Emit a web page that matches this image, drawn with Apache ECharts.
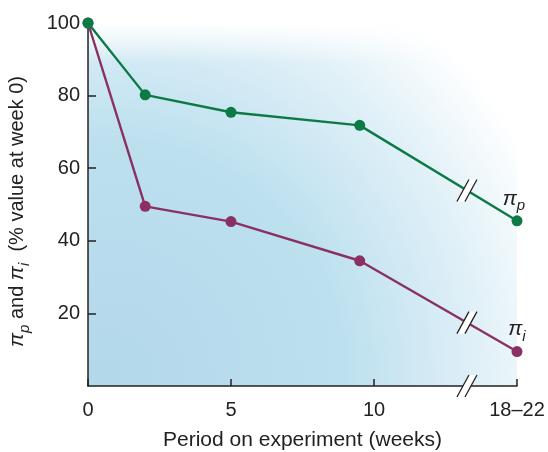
<!DOCTYPE html>
<html>
<head>
<meta charset="utf-8">
<script src="https://cdn.jsdelivr.net/npm/echarts@6/dist/echarts.min.js"></script>
<style>html,body{margin:0;padding:0;background:#fff;}#c{width:548px;height:452px;}</style>
</head>
<body>
<div id="c"></div>
<script>
// Data (x = position on axis in weeks; last point plotted at 15, labelled "18–22")
const weeks = [0, 2, 5, 9.5, 15];
const piP = [100, 80.2, 75.4, 71.8, 45.5];
const piI = [100, 49.5, 45.3, 34.5, 9.5];
const xTicks = {0: '0', 5: '5', 10: '10', 15: '18–22'};
const yTicks = [20, 40, 60, 80, 100];
const breakX = 13.25;

const green = '#0b7a44';
const purple = '#8a3164';
const font = 'Liberation Sans, Arial, Helvetica, sans-serif';

const chart = echarts.init(document.getElementById('c'), null, {renderer: 'canvas'});

function pairs(ys) { return weeks.map((w, i) => [w, ys[i]]); }
const piRich = {
  pi: {fontFamily: font, fontSize: 21, fontStyle: 'italic', color: '#222'},
  sub: {fontFamily: font, fontSize: 15, fontStyle: 'italic', color: '#222', padding: [14, 0, 0, 0]}
};

const option = {
  animation: false,
  grid: {
    left: 88, right: 31, top: 23, bottom: 66,
    containLabel: false, outerBoundsMode: 'none',
    show: true, borderWidth: 0,
    backgroundColor: new echarts.graphic.RadialGradient(0.05, 0.97, 1.3, [
      {offset: 0, color: '#b3d8ea'},
      {offset: 0.5, color: '#bde0ef'},
      {offset: 0.8, color: '#e2f1f8'},
      {offset: 1, color: '#ffffff'}
    ])
  },
  xAxis: {
    type: 'value', min: 0, max: 15, interval: 5,
    name: 'Period on experiment (weeks)',
    nameLocation: 'middle', nameGap: 44,
    nameTextStyle: {fontFamily: font, fontSize: 21, color: '#222'},
    axisLine: {lineStyle: {color: '#222', width: 1.5}},
    axisTick: {inside: true, length: 7, lineStyle: {color: '#222', width: 1.5}},
    axisLabel: {fontFamily: font, fontSize: 20, color: '#222', margin: 14,
      formatter: v => xTicks[v] !== undefined ? xTicks[v] : ''},
    splitLine: {show: false}
  },
  yAxis: {
    type: 'value', min: 0, max: 100, interval: 20,
    name: '{pi|π}{sub|p} and {pi|π}{sub|i}  (% value at week 0)',
    nameLocation: 'middle', nameGap: 56, nameRotate: 90,
    nameTextStyle: {fontFamily: font, fontSize: 20, color: '#222', rich: piRich, padding: [0, 14, 0, 0]},
    axisLine: {lineStyle: {color: '#222', width: 1.5}},
    axisTick: {inside: true, length: 8, lineStyle: {color: '#222', width: 1.5},
      customValues: [20, 40, 60, 80]},
    axisLabel: {fontFamily: font, fontSize: 20, color: '#222', margin: 8,
      formatter: v => yTicks.indexOf(v) >= 0 ? String(v) : ''},
    splitLine: {show: false}
  },
  series: [
    {
      type: 'line', data: pairs(piI), z: 3,
      lineStyle: {color: purple, width: 2.4},
      itemStyle: {color: purple},
      symbol: 'circle', symbolSize: 11, showAllSymbol: true
    },
    {
      type: 'line', data: pairs(piP), z: 4,
      lineStyle: {color: green, width: 2.4},
      itemStyle: {color: green},
      symbol: 'circle', symbolSize: 11, showAllSymbol: true
    }
  ]
};
const last = weeks.length - 1;
option.series[0].data = option.series[0].data.map((d, i) => i === last ?
  {value: d, label: {show: true, position: 'top', distance: 2, formatter: '{pi|π}{sub|i}', rich: piRich}} : d);
option.series[1].data = option.series[1].data.map((d, i) => i === last ?
  {value: d, label: {show: true, position: 'top', distance: 2, offset: [-3, 0], formatter: '{pi|π}{sub|p}', rich: piRich}} : d);

chart.setOption(option);

// break marks (decorations) positioned from the axes' own scales
function breakMark(cx, cy) {
  const dx = 6, dy = 11, off = 4;
  const a1 = [cx - off - dx, cy + dy], a2 = [cx - off + dx, cy - dy];
  const b1 = [cx + off - dx, cy + dy], b2 = [cx + off + dx, cy - dy];
  return [
    {type: 'polygon', shape: {points: [a1, a2, b2, b1]}, style: {fill: '#ffffff'}, z: 10},
    {type: 'line', shape: {x1: a1[0], y1: a1[1], x2: a2[0], y2: a2[1]}, style: {stroke: '#222', lineWidth: 1.3}, z: 11},
    {type: 'line', shape: {x1: b1[0], y1: b1[1], x2: b2[0], y2: b2[1]}, style: {stroke: '#222', lineWidth: 1.3}, z: 11}
  ];
}
function onSegment(ys) {
  const n = weeks.length;
  const p1 = chart.convertToPixel({gridIndex: 0}, [weeks[n - 2], ys[n - 2]]);
  const p2 = chart.convertToPixel({gridIndex: 0}, [weeks[n - 1], ys[n - 1]]);
  const bx = chart.convertToPixel({gridIndex: 0}, [breakX, 0])[0];
  const t = (bx - p1[0]) / (p2[0] - p1[0]);
  return [bx, p1[1] + t * (p2[1] - p1[1])];
}
const axisPt = chart.convertToPixel({gridIndex: 0}, [breakX, 0]);
const pP = onSegment(piP), pI = onSegment(piI);
// soft white fade along the top of the plot area
const tl = chart.convertToPixel({gridIndex: 0}, [0, 100]);
const br = chart.convertToPixel({gridIndex: 0}, [15, 0]);
const topFade = {
  type: 'rect', z: 1, silent: true,
  shape: {x: tl[0] + 1, y: tl[1], width: br[0] - tl[0] - 1, height: 40},
  style: {fill: new echarts.graphic.LinearGradient(0, 0, 0, 1, [
    {offset: 0, color: 'rgba(255,255,255,1)'},
    {offset: 1, color: 'rgba(255,255,255,0)'}
  ])}
};
chart.setOption({graphic: [topFade].concat(breakMark(axisPt[0], axisPt[1]), breakMark(pP[0], pP[1]), breakMark(pI[0], pI[1]))});
</script>
</body>
</html>
